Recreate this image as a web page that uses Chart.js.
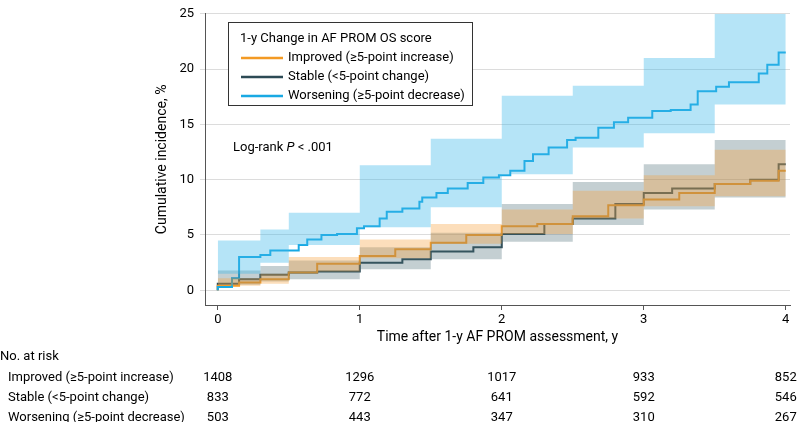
<!DOCTYPE html>
<html><head><meta charset="utf-8">
<script src="https://cdn.jsdelivr.net/npm/chart.js@4/dist/chart.umd.min.js"></script>
<style>body{margin:0;background:#fff}#c{display:block}</style>
</head><body>
<div style="width:810px;height:422px"><canvas id="c"></canvas></div>
<script>
// Kaplan-Meier style cumulative incidence
const worseT = [0, 0.1, 0.15, 0.3, 0.37, 0.57, 0.63, 0.73, 0.84, 0.98, 1.03, 1.14, 1.19, 1.3, 1.42, 1.44, 1.54, 1.62, 1.76, 1.87, 1.98, 2.06, 2.16, 2.22, 2.33, 2.46, 2.52, 2.68, 2.79, 2.89, 3.06, 3.19, 3.33, 3.38, 3.51, 3.6, 3.81, 3.87, 3.95, 4.0];
const worseY = [0, 0.3, 1.1, 3.0, 3.2, 3.6, 4.1, 4.6, 5.0, 5.1, 5.6, 5.8, 6.5, 7.1, 7.4, 8.0, 8.4, 8.8, 9.2, 9.7, 10.2, 10.4, 10.8, 11.7, 12.3, 12.9, 13.6, 13.8, 14.7, 15.2, 15.6, 16.2, 16.3, 16.8, 18.0, 18.4, 18.8, 19.6, 20.4, 21.5];
const improvedT = [0, 0.15, 0.3, 0.5, 0.7, 1.0, 1.25, 1.5, 1.75, 2.0, 2.25, 2.5, 2.75, 3.0, 3.25, 3.5, 3.75, 3.95, 4.0];
const improvedY = [0, 0.4, 0.7, 1.0, 1.6, 2.4, 3.1, 3.7, 4.3, 5.0, 5.8, 6.0, 6.7, 7.7, 8.2, 8.8, 9.6, 9.9, 10.8];
const stableT = [0, 0.15, 0.3, 0.5, 0.7, 1.0, 1.3, 1.5, 1.8, 2.0, 2.3, 2.5, 2.8, 3.0, 3.2, 3.5, 3.75, 3.95, 4.0];
const stableY = [0, 0.6, 1.0, 1.4, 1.6, 1.7, 2.5, 2.8, 3.5, 3.9, 5.1, 6.0, 6.5, 7.8, 8.8, 9.2, 9.6, 10.0, 11.4];
// confidence bands
const bandT = [0, 0.3, 0.5, 1.0, 1.5, 2.0, 2.5, 3.0, 3.5, 4.0];
const worseLo = [0, 1.5, 2.5, 4.1, 5.7, 7.5, 10.5, 12.9, 14.2, 16.8];
const worseHi = [0, 4.5, 5.5, 7.0, 11.3, 13.7, 17.6, 18.5, 21.0, 25.0];
const improvedLo = [0, 0.4, 0.6, 1.7, 2.9, 4.2, 5.1, 6.5, 7.6, 8.5];
const improvedHi = [0, 1.1, 1.5, 3.0, 4.6, 6.0, 7.3, 9.0, 10.4, 12.7];
const stableLo = [0, 0.5, 0.8, 1.0, 1.9, 2.8, 4.4, 5.9, 7.3, 8.4];
const stableHi = [0, 1.8, 2.2, 2.7, 3.9, 5.2, 7.8, 9.8, 11.4, 13.6];
// risk table
const riskTimes = [0, 1, 2, 3, 4];
const riskGroups = ['Improved (≥5-point increase)', 'Stable (<5-point change)', 'Worsening (≥5-point decrease)'];
const riskCounts = [[1408, 1296, 1017, 933, 852], [833, 772, 641, 592, 546], [503, 443, 347, 310, 267]];

const FONT = "Roboto, 'Liberation Sans', sans-serif";
const ORANGE = '#f39a24', DARK = '#2d4a55', BLUE = '#19a9e3';

const pts = (t, y) => t.map((v, i) => ({x: v, y: y[i]}));
const band = (t, y, color, fill) => ({data: pts(t, y), showLine: true, stepped: 'after', borderWidth: 0,
  borderColor: 'rgba(0,0,0,0)', pointRadius: 0, backgroundColor: color, fill: fill});
const line = (t, y, color) => ({data: pts(t, y), showLine: true, stepped: 'after', borderColor: color,
  borderWidth: 2, pointRadius: 0, fill: false});

const overlay = {
  id: 'overlay',
  afterDraw(chart) {
    const c = chart.ctx, xs = chart.scales.x;
    c.save();
    c.font = '13px ' + FONT;
    c.fillStyle = '#000';
    c.textBaseline = 'middle';
    // legend box
    c.fillStyle = '#fff';
    c.fillRect(228.5, 22.5, 244, 83);
    c.fillStyle = '#000';
    c.strokeStyle = '#333'; c.lineWidth = 1;
    c.strokeRect(228.5, 22.5, 244, 83);
    c.textAlign = 'left';
    c.fillText('1-y Change in AF PROM OS score', 240, 39);
    [['Improved (≥5-point increase)', ORANGE], ['Stable (<5-point change)', DARK], ['Worsening (≥5-point decrease)', BLUE]]
      .forEach(([label, col], i) => {
        const y = 58 + i * 19;
        c.strokeStyle = col; c.lineWidth = 2.5;
        c.beginPath(); c.moveTo(241, y); c.lineTo(283, y); c.stroke();
        c.fillText(label, 288, y);
      });
    // log-rank
    c.fillText('Log-rank ', 233, 148);
    let w = c.measureText('Log-rank ').width;
    c.font = 'italic 13px ' + FONT;
    c.fillText('P', 233 + w, 148);
    w += c.measureText('P').width;
    c.font = '13px ' + FONT;
    c.fillText(' < .001', 233 + w, 148);
    // risk table
    c.fillText('No. at risk', 0, 357);
    riskGroups.forEach((g, r) => {
      const y = 378 + r * 20;
      c.textAlign = 'left';
      c.fillText(g, 8, y);
      c.textAlign = 'center';
      riskTimes.forEach((t, i) => c.fillText(String(riskCounts[r][i]), xs.getPixelForValue(t), y));
    });
    c.restore();
  }
};

new Chart(document.getElementById('c'), {
  type: 'scatter',
  data: {datasets: [
    band(bandT, worseLo, 'rgba(0,0,0,0)', false),
    band(bandT, worseHi, 'rgba(60,185,235,0.38)', '-1'),
    band(bandT, improvedLo, 'rgba(0,0,0,0)', false),
    band(bandT, improvedHi, 'rgba(245,160,60,0.35)', '-1'),
    band(bandT, stableLo, 'rgba(0,0,0,0)', false),
    band(bandT, stableHi, 'rgba(70,105,115,0.32)', '-1'),
    line(worseT, worseY, BLUE),
    line(improvedT, improvedY, ORANGE),
    line(stableT, stableY, DARK)
  ]},
  options: {
    responsive: true, maintainAspectRatio: false, animation: false,
    layout: {padding: {left: 150, top: 9, right: 20, bottom: 72}},
    plugins: {legend: {display: false}, tooltip: {enabled: false}},
    scales: {
      x: {type: 'linear', min: -0.09, max: 4.03,
        afterBuildTicks: s => { s.ticks = riskTimes.map(v => ({value: v})); },
        afterFit: s => { s.height = 45; },
        grid: {display: true, drawOnChartArea: false, drawTicks: true, tickLength: 5, color: '#555'},
        border: {color: '#555'},
        ticks: {color: '#000', font: {size: 13, family: FONT}, padding: 2},
        title: {display: true, text: 'Time after 1-y AF PROM assessment, y', color: '#000',
          font: {size: 14, family: FONT}, padding: {top: 0}}},
      y: {type: 'linear', min: -1.33, max: 25,
        afterBuildTicks: s => { s.ticks = [0, 5, 10, 15, 20, 25].map(v => ({value: v})); },
        afterFit: s => { s.width = 55; },
        grid: {color: '#dcdcdc', drawTicks: true, tickLength: 5},
        border: {color: '#555'},
        ticks: {color: '#000', font: {size: 13, family: FONT}, padding: 6},
        title: {display: true, text: 'Cumulative incidence, %', color: '#000',
          font: {size: 14, family: FONT}}}
    }
  },
  plugins: [overlay]
});
</script>
</body></html>
